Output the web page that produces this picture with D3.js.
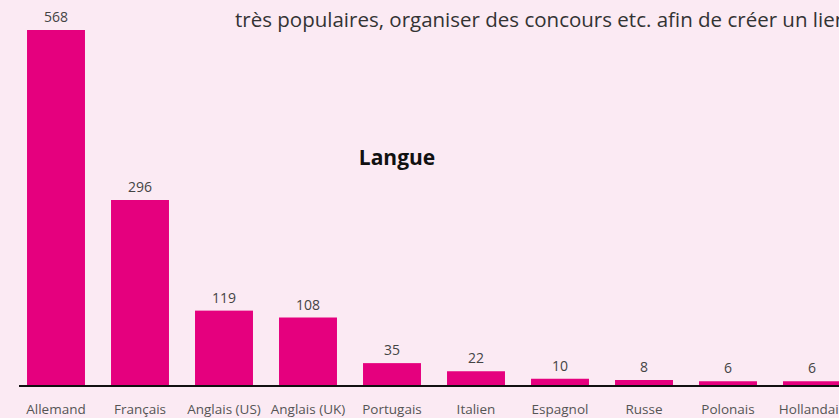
<!DOCTYPE html>
<html>
<head>
<meta charset="utf-8">
<style>
	html, body { margin: 0; padding: 0; background: #fbeaf3; overflow: hidden; }
	svg { display: block; font-family: "Open Sans", Lato, sans-serif; }
	.val { fill: #444; font-size: 14px; text-anchor: middle; }
	.cat { fill: #555; font-size: 13.5px; text-anchor: middle; }
</style>
</head>
<body>
<svg id="chart" width="839" height="418"></svg>
<script src="https://d3js.org/d3.v7.min.js"></script>
<script>
	var langues = ["Allemand", "Français", "Anglais (US)", "Anglais (UK)", "Portugais",
		"Italien", "Espagnol", "Russe", "Polonais", "Hollandais"];
	var nombres = [568, 296, 119, 108, 35, 22, 10, 8, 6, 6];

	var svg = d3.select("#chart");

	// bout de texte de l'article au-dessus du graphique
	svg.append("text")
		.attr("x", 235)
		.attr("y", 27)
		.style("font-size", "20.5px")
		.style("fill", "#333")
		.text("très populaires, organiser des concours etc. afin de créer un lien");

	var x = d3.scaleBand()
		.domain(langues)
		.range([14, 854])
		.paddingInner(0.31)
		.paddingOuter(0.155);

	var y = d3.scaleLinear()
		.domain([0, 568])
		.range([385, 30]);

	svg.selectAll("rect.bar")
		.data(nombres)
		.enter().append("rect")
		.attr("class", "bar")
		.attr("x", function(d, i){ return x(langues[i]); })
		.attr("y", function(d){ return y(d); })
		.attr("width", x.bandwidth())
		.attr("height", function(d){ return y(0) - y(d); })
		.style("fill", "#e5007e");

	svg.selectAll("text.val")
		.data(nombres)
		.enter().append("text")
		.attr("class", "val")
		.attr("x", function(d, i){ return x(langues[i]) + x.bandwidth() / 2; })
		.attr("y", function(d){ return y(d) - 8; })
		.text(function(d){ return d; });

	// ligne de base
	svg.append("line")
		.attr("x1", 19)
		.attr("x2", 839)
		.attr("y1", 386)
		.attr("y2", 386)
		.style("stroke", "#111")
		.style("stroke-width", 2);

	svg.selectAll("text.cat")
		.data(langues)
		.enter().append("text")
		.attr("class", "cat")
		.attr("x", function(d){ return x(d) + x.bandwidth() / 2; })
		.attr("y", 414)
		.text(function(d){ return d; });

	svg.append("text")
		.attr("x", 397)
		.attr("y", 165)
		.attr("text-anchor", "middle")
		.style("font-size", "21px")
		.style("font-weight", "bold")
		.style("fill", "#111")
		.text("Langue");
</script>
</body>
</html>
